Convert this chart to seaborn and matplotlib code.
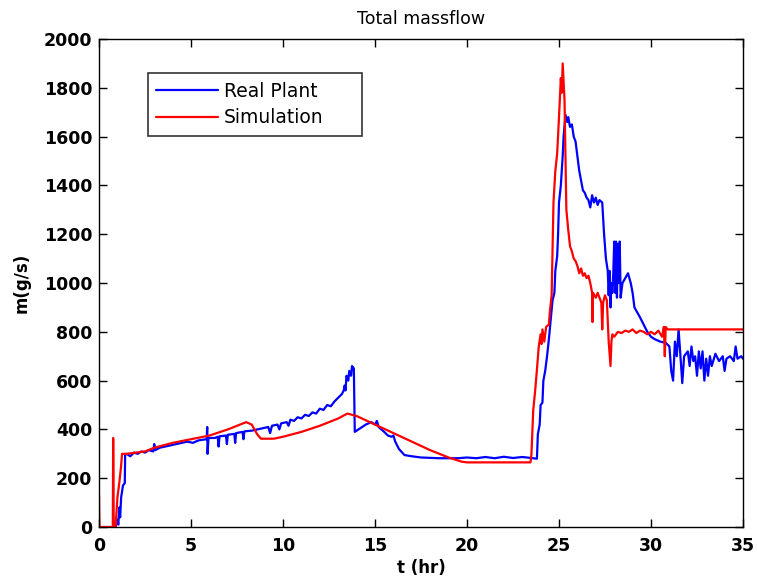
import pandas as pd
import seaborn as sns
import matplotlib.pyplot as plt

# Real plant measurements (t in hr, massflow in g/s)
real_t = [0.0, 0.9, 1.0, 1.05, 1.1, 1.15, 1.2, 1.3, 1.4, 1.42, 1.5, 1.7, 1.9, 2.1, 2.3, 2.5, 2.7,
          2.95, 3.0, 3.05, 3.3, 3.6, 3.9, 4.2, 4.5, 4.8, 5.1, 5.4, 5.85, 5.88, 5.9, 5.95, 6.3, 6.45,
          6.5, 6.55, 6.9, 6.95, 7.0, 7.35, 7.4, 7.45, 7.8, 7.85, 7.9, 8.3, 8.6, 8.9, 9.2, 9.3, 9.4,
          9.7, 9.8, 9.9, 10.2, 10.3, 10.4, 10.6, 10.8, 11.0, 11.2, 11.4, 11.6, 11.8, 12.0, 12.2,
          12.4, 12.6, 12.8, 13.0, 13.2, 13.3, 13.35, 13.4, 13.45, 13.55, 13.6, 13.7, 13.75, 13.85,
          13.9, 14.2, 14.5, 14.8, 15.0, 15.1, 15.2, 15.5, 15.7, 15.9, 16.0, 16.1, 16.3, 16.6, 17.0,
          17.5, 18.5, 19.5, 20.0, 20.5, 21.0, 21.5, 22.0, 22.5, 23.0, 23.5, 23.8, 23.85, 23.95,
          24.0, 24.1, 24.15, 24.25, 24.35, 24.45, 24.55, 24.65, 24.75, 24.8, 24.9, 24.95, 25.0,
          25.1, 25.2, 25.25, 25.35, 25.45, 25.5, 25.6, 25.7, 25.8, 25.9, 26.0, 26.1, 26.2, 26.3,
          26.4, 26.5, 26.6, 26.7, 26.8, 26.9, 27.0, 27.1, 27.2, 27.35, 27.45, 27.55, 27.65, 27.7,
          27.75, 27.8, 27.85, 27.9, 27.95, 28.0, 28.05, 28.1, 28.15, 28.2, 28.25, 28.3, 28.35,
          28.45, 28.6, 28.75, 28.9, 29.0, 29.1, 29.25, 29.4, 29.6, 29.8, 30.0, 30.2, 30.5, 30.8,
          31.0, 31.1, 31.2, 31.3, 31.4, 31.5, 31.6, 31.7, 31.8, 32.0, 32.1, 32.2, 32.3, 32.4, 32.5,
          32.6, 32.7, 32.8, 32.9, 33.0, 33.1, 33.2, 33.3, 33.5, 33.7, 33.9, 34.0, 34.1, 34.3, 34.5,
          34.6, 34.7, 34.9, 35.0]
real_m = [0, 0, 30, 10, 80, 40, 120, 170, 180, 295, 300, 290, 305, 300, 310, 305, 315,
          310, 340, 315, 325, 330, 335, 340, 345, 350, 345, 355, 360, 410, 300, 365, 365, 370,
          330, 372, 375, 340, 378, 382, 345, 385, 390, 360, 392, 395, 400, 405, 410, 385, 415,
          420, 400, 425, 430, 415, 440, 435, 450, 445, 460, 455, 470, 465, 485, 480,
          500, 495, 515, 530, 545, 560, 580, 560, 620, 600, 640, 620, 660, 650,
          390, 405, 420, 430, 420, 435, 410, 390, 375, 370, 375, 350, 320, 295, 290,
          285, 282, 282, 285, 282, 287, 282, 288, 283, 287, 283, 280, 380, 420,
          500, 510, 600, 640, 700, 770, 850, 930, 960, 1050, 1110, 1200, 1330,
          1400, 1520, 1600, 1690, 1660, 1680, 1640, 1650, 1600, 1580, 1520, 1460, 1420, 1380,
          1370, 1350, 1340, 1310, 1360, 1330, 1350, 1320, 1340, 1330, 1200, 1100, 1050, 950,
          1050, 900, 1000, 960, 1040, 1170, 960, 1170, 940, 1160, 1000, 1170, 940,
          1000, 1020, 1040, 1000, 960, 900, 880, 860, 830, 800, 780, 770, 760, 755,
          740, 640, 600, 760, 700, 810, 700, 590, 700, 720, 660, 740, 680, 700, 620,
          720, 650, 720, 600, 690, 620, 700, 660, 710, 680, 700, 640, 690, 700, 680,
          740, 690, 700, 690]

# Simulation output
sim_t = [0.0, 0.02, 0.75, 0.77, 0.8, 0.9, 0.95, 1.0, 1.1, 1.2, 1.25, 1.5, 2.0, 2.5, 3.0, 4.0,
         5.0, 6.0, 7.0, 7.5, 8.0, 8.3, 8.6, 8.8, 9.5, 10.0, 11.0, 12.0, 13.0, 13.5, 14.0, 15.0,
         16.0, 17.0, 18.0, 19.0, 19.7, 20.0, 23.45, 23.5, 23.6, 23.7, 23.8, 23.9, 24.0, 24.05,
         24.1, 24.2, 24.3, 24.45, 24.5, 24.6, 24.7, 24.8, 24.9, 25.0, 25.1, 25.15, 25.2, 25.3,
         25.4, 25.5, 25.6, 25.7, 25.8, 25.9, 26.0, 26.1, 26.2, 26.3, 26.4, 26.5, 26.6, 26.7,
         26.8, 26.82, 26.85, 27.0, 27.1, 27.2, 27.3, 27.35, 27.4, 27.5, 27.6, 27.7, 27.8, 27.85,
         27.9, 28.0, 28.2, 28.4, 28.6, 28.8, 29.0, 29.2, 29.4, 29.6, 29.8, 30.0, 30.2, 30.4,
         30.6, 30.7, 30.75, 30.8, 30.9, 35.0]
sim_m = [130, 0, 0, 365, 0, 0, 60, 120, 180, 250, 300, 300, 305, 310, 325, 345,
         360, 375, 400, 415, 430, 420, 380, 362, 362, 370, 390, 415, 445, 465, 455, 420,
         385, 350, 315, 285, 268, 265, 265, 295, 480, 555, 645, 740, 790, 750,
         810, 760, 820, 830, 880, 950, 1330, 1460, 1530, 1680, 1840, 1780, 1900, 1750,
         1300, 1220, 1150, 1130, 1100, 1090, 1070, 1040, 1060, 1030, 1040, 1020, 1030, 1000,
         960, 840, 960, 940, 960, 940, 920, 810, 920, 950, 930, 760, 660, 760,
         790, 780, 800, 795, 805, 800, 810, 795, 805, 800, 790, 800, 790, 805,
         780, 820, 700, 820, 810, 810]

real = pd.DataFrame({'t': real_t, 'm': real_m})
sim = pd.DataFrame({'t': sim_t, 'm': sim_m})

sns.set_style('ticks')
plt.rcParams['font.family'] = ['DejaVu Sans']
plt.rcParams['text.color'] = 'black'
plt.rcParams['axes.labelcolor'] = 'black'

fig = plt.figure(figsize=(7.57, 5.83), dpi=100)
ax = fig.add_axes([0.1308, 0.096, 0.8507, 0.837])

sns.lineplot(data=real, x='t', y='m', ax=ax, color='#0000ff', linewidth=1.6,
             estimator=None, sort=False, label='Real Plant')
sns.lineplot(data=sim, x='t', y='m', ax=ax, color='#ff0000', linewidth=1.6,
             estimator=None, sort=False, label='Simulation')

ax.set_xlim(0, 35)
ax.set_ylim(0, 2000)
ax.set_xticks(range(0, 36, 5))
ax.set_yticks(range(0, 2001, 200))
ax.tick_params(direction='in', length=6, width=1, top=True, right=True,
               labelsize=12.5, colors='black')
ax.tick_params(axis='y', pad=5)
ax.tick_params(axis='x', pad=7)
for lab in ax.get_xticklabels() + ax.get_yticklabels():
    lab.set_fontweight('bold')
for s in ax.spines.values():
    s.set_linewidth(1.0)
    s.set_color('black')

ax.set_title('Total massflow', fontsize=12.5, pad=11, color='black')
ax.set_xlabel('t (hr)', fontsize=12, fontweight='bold', labelpad=3)
ax.set_ylabel('m(g/s)', fontsize=12, fontweight='bold', labelpad=9)

# MATLAB-like legend box with spare room on the right
leg = ax.legend(loc='upper left', bbox_to_anchor=(0.076, 0.797, 0.332, 0.133),
                mode='expand', borderaxespad=0, fontsize=13.5, frameon=True,
                fancybox=False, handlelength=3.3, handletextpad=0.3,
                edgecolor='black', borderpad=0.45, labelspacing=0.4)
leg.get_frame().set_linewidth(1.2)
for txt in leg.get_texts():
    txt.set_color('black')

fig.savefig('out.png', dpi=100)
